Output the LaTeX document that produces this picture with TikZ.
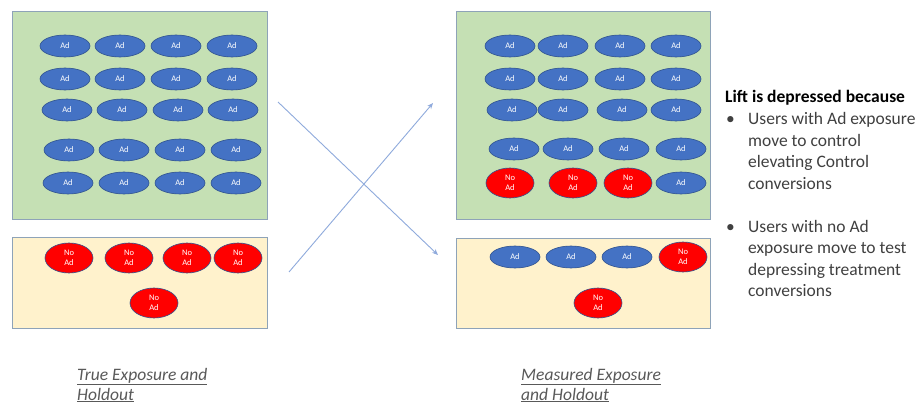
\documentclass[tikz,border=0pt]{standalone}
\usepackage{fontspec}
\setmainfont{Carlito}
\usetikzlibrary{shapes.geometric,arrows.meta}
\definecolor{boxgreen}{HTML}{C5E0B4}
\definecolor{boxyellow}{HTML}{FFF2CC}
\definecolor{boxline}{HTML}{8EA3B8}
\definecolor{adblue}{HTML}{4472C4}
\definecolor{adline}{HTML}{2F528F}
\definecolor{noadred}{HTML}{FF0000}
\definecolor{arrowblue}{HTML}{8FAADC}
\definecolor{txtgray}{HTML}{404040}
\definecolor{capgray}{HTML}{595959}
\tikzset{
  panelgreen/.style={draw=boxline, line width=1pt, fill=boxgreen},
  panelyellow/.style={draw=boxline, line width=1pt, fill=boxyellow},
  adnode/.style={ellipse, draw=adline, line width=0.6pt, fill=adblue, minimum width=50pt, minimum height=22pt, inner sep=0pt, text=white, font=\fontsize{8.5}{9}\selectfont},
  noadnode/.style={ellipse, draw=adline, line width=0.6pt, fill=noadred, minimum width=48pt, minimum height=30pt, inner sep=0pt, text=white, align=center, font=\fontsize{8.5}{10.5}\selectfont},
  moveline/.style={draw=arrowblue, line width=0.9pt, -{Stealth[length=6pt,width=5pt]}},
  bodytext/.style={anchor=base west, inner sep=0pt, text=txtgray, font=\fontsize{17.5}{21.5}\selectfont},
  captext/.style={anchor=base west, inner sep=0pt, text=capgray, font=\fontsize{17.5}{20}\selectfont\itshape},
}
\begin{document}
\begin{tikzpicture}[x=1pt,y=-1pt]
\useasboundingbox (0,0) rectangle (920,406);
\fill[white] (0,0) rectangle (920,406);
% panels
\node[panelgreen, draw, minimum width=255pt, minimum height=208pt, anchor=north west, inner sep=0pt] (lg) at (12,11) {};
\node[panelyellow, draw, minimum width=255pt, minimum height=91pt, anchor=north west, inner sep=0pt] (ly) at (12,237) {};
\node[panelgreen, draw, minimum width=254pt, minimum height=208pt, anchor=north west, inner sep=0pt] (rg) at (456,11) {};
\node[panelyellow, draw, minimum width=254pt, minimum height=90pt, anchor=north west, inner sep=0pt] (ry) at (456,238) {};
% left green ads
\foreach \x [count=\i] in {65,120,176,232} {\node[adnode] (la1\i) at (\x,46) {Ad};}
\foreach \x [count=\i] in {65,120,176,232} {\node[adnode] (la2\i) at (\x,79) {Ad};}
\foreach \x [count=\i] in {67,122,178,233} {\node[adnode] (la3\i) at (\x,110) {Ad};}
\foreach \x [count=\i] in {69,124,180,236} {\node[adnode] (la4\i) at (\x,150) {Ad};}
\foreach \x [count=\i] in {68,124,180,236} {\node[adnode] (la5\i) at (\x,183) {Ad};}
% left yellow no-ads
\foreach \x [count=\i] in {69,129,187,238} {\node[noadnode] (ln1\i) at (\x,258) {No\\Ad};}
\node[noadnode] (ln21) at (154,303) {No\\Ad};
% right green
\foreach \x [count=\i] in {510,563,620,676} {\node[adnode] (ra1\i) at (\x,46) {Ad};}
\foreach \x [count=\i] in {510,563,620,676} {\node[adnode] (ra2\i) at (\x,79) {Ad};}
\foreach \x [count=\i] in {512,563,622,676} {\node[adnode] (ra3\i) at (\x,110) {Ad};}
\foreach \x [count=\i] in {514,568,624,681} {\node[adnode] (ra4\i) at (\x,149) {Ad};}
\foreach \x [count=\i] in {510,573,628} {\node[noadnode] (rn5\i) at (\x,183) {No\\Ad};}
\node[adnode] (ra54) at (681,183) {Ad};
% right yellow
\foreach \x [count=\i] in {515,571,627} {\node[adnode] (ry1\i) at (\x,257) {Ad};}
\node[noadnode] (rn14) at (683,257) {No\\Ad};
\node[noadnode] (rn21) at (598,303) {No\\Ad};
% crossing arrows
\coordinate (s1) at (278,102);
\coordinate (e1) at (438,255);
\coordinate (s2) at (289,272);
\coordinate (e2) at (433,103);
\draw[moveline] (s1) -- (e1);
\draw[moveline] (s2) -- (e2);
% explanation text
\node[bodytext, text=black, font=\fontsize{17.5}{21.5}\selectfont\bfseries] (title) at (725,103) {Lift is depressed because};
\node[bodytext] (bul1) at (726,125) {\textbullet};
\node[bodytext, align=left] (txt1) at (748,189.5) {Users with Ad exposure\\move to control\\elevating Control\\conversions};
\node[bodytext] (bul2) at (726,232) {\textbullet};
\node[bodytext, align=left] (txt2) at (748,296.5) {Users with no Ad\\exposure move to test\\depressing treatment\\conversions};
% captions
\node[captext, align=left] (cap1) at (77,400) {\underline{True Exposure and}\\\underline{Holdout}};
\node[captext, align=left] (cap2) at (521,400) {\underline{Measured Exposure}\\\underline{and Holdout}};
\end{tikzpicture}
\end{document}
